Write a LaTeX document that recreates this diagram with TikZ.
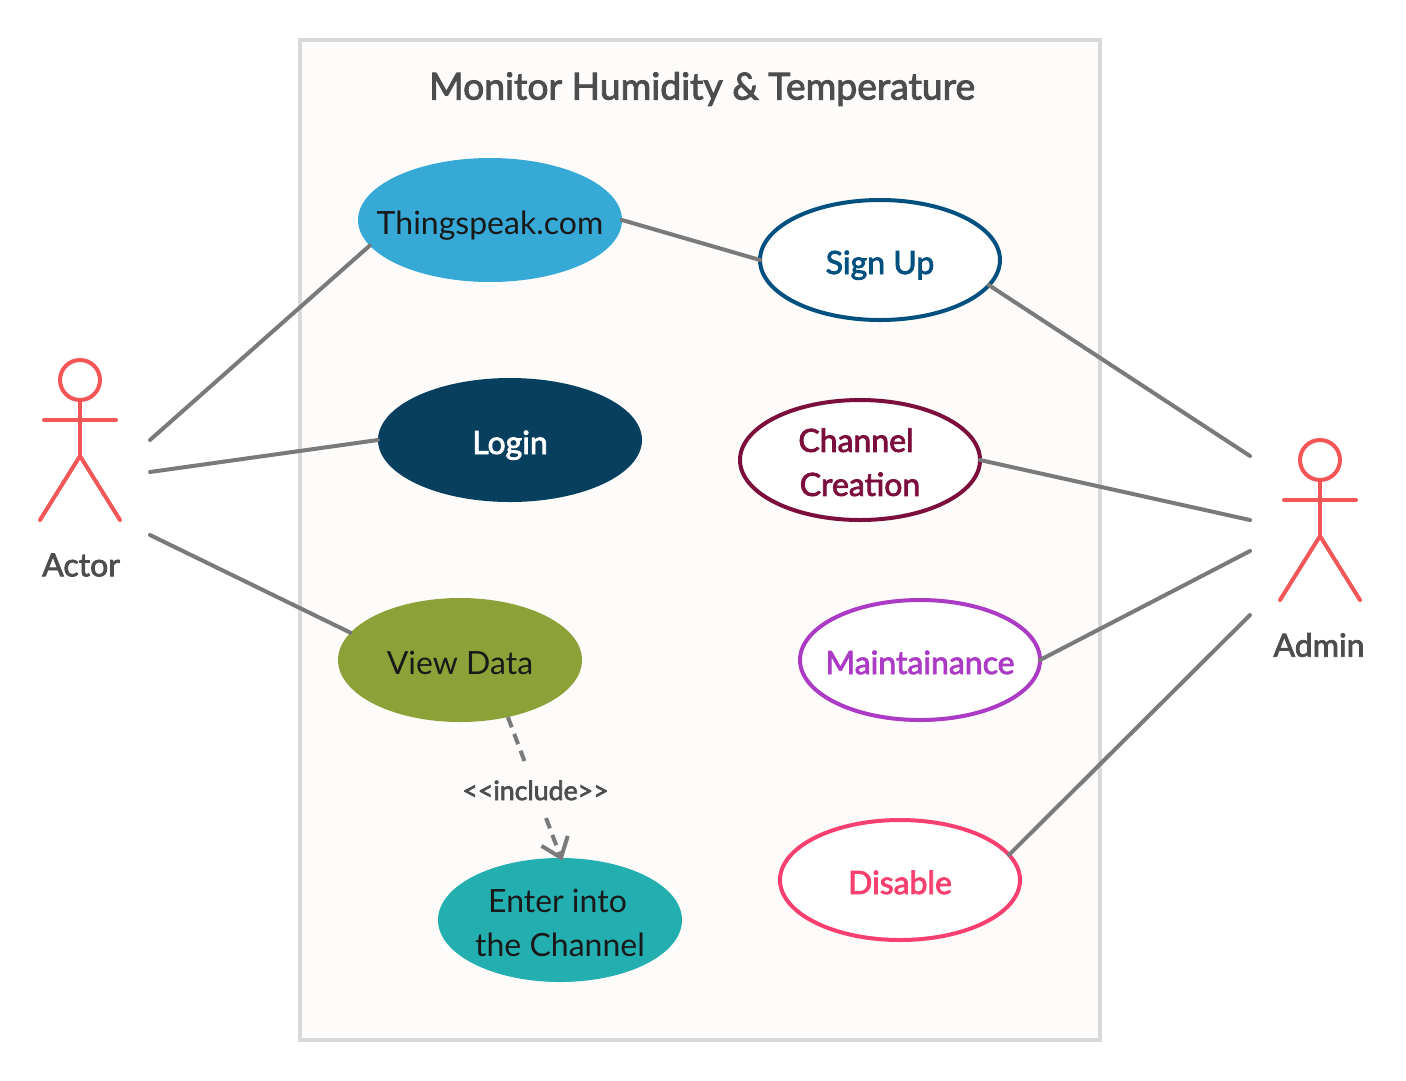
\documentclass[tikz,border=0pt]{standalone}
\usepackage{fontspec}
\setmainfont{Lato}
\newfontfamily\heavyfont{Lato}[FakeBold=2.5]
\usetikzlibrary{shapes.geometric,arrows.meta}
\definecolor{sysfill}{HTML}{FDFCFA}
\definecolor{sysline}{HTML}{D9D9D9}
\definecolor{linkgray}{HTML}{7A7A7A}
\definecolor{textgray}{HTML}{4D4D4D}
\definecolor{actorred}{HTML}{F25656}
\definecolor{thingblue}{HTML}{36A9D7}
\definecolor{loginblue}{HTML}{083F5F}
\definecolor{viewgreen}{HTML}{8CA137}
\definecolor{entergreen}{HTML}{23AFAF}
\definecolor{signblue}{HTML}{02507F}
\definecolor{channelred}{HTML}{7C0E3E}
\definecolor{maintpurple}{HTML}{AB3AC4}
\definecolor{disablepink}{HTML}{F7406F}
\tikzset{
  usecase/.style={ellipse,inner sep=-40pt,outer sep=0pt,minimum width=240pt,
    minimum height=120pt,align=center,font=\fontsize{32}{44}\selectfont},
  solidcase/.style={usecase,fill=#1,text=black!90},
  linecase/.style={usecase,draw=#1,fill=white,text=#1,line width=4pt,font=\fontsize{32}{44}\heavyfont},
  oneline/.style={text height=28pt,text depth=0pt},
  link/.style={draw=linkgray,line width=4pt,line cap=round},
  limb/.style={draw=actorred,line width=4pt,line cap=round},
  actorname/.style={text=textgray,font=\fontsize{32}{40}\heavyfont}
}
\begin{document}
\begin{tikzpicture}[x=1pt,y=-1pt]
  \useasboundingbox (0,0) rectangle (1406,1080);
  % system box
  \draw[fill=sysfill,draw=sysline,line width=4pt] (300,40) rectangle (1100,1040);
  \node[text=textgray,font=\fontsize{37.3}{46}\heavyfont] (title) at (702,89) {Monitor Humidity \& Temperature};
  % use cases
  \node[solidcase=thingblue,oneline,minimum width=264pt,minimum height=124pt] (thingspeak) at (490,220) {Thingspeak.com};
  \node[solidcase=loginblue,oneline,minimum width=264pt,minimum height=124pt,text=white,font=\fontsize{32}{44}\heavyfont] (login) at (510,440) {Login};
  \node[solidcase=viewgreen,oneline,minimum width=244pt,minimum height=124pt] (viewdata) at (460,660) {View Data};
  \node[solidcase=entergreen,minimum width=244pt,minimum height=124pt] (enter) at (560,920) {\rule{0pt}{30pt}Enter into\hspace*{5pt}\\the Channel};
  \node[linecase=signblue,oneline] (signup) at (880,260) {Sign Up};
  \node[linecase=channelred] (channel) at (860,460) {\rule{0pt}{28pt}Channel\hspace*{8pt}\\Creation};
  \node[linecase=maintpurple,oneline] (maint) at (920,660) {Maintainance};
  \node[linecase=disablepink,oneline] (disable) at (900,880) {Disable};
  % actors
  \foreach \x/\y in {80/380,1320/460} {
    \draw[limb] (\x,\y) circle (20);
    \draw[limb] (\x,\y+20) -- (\x,\y+76);
    \draw[limb] (\x-36,\y+40) -- (\x+36,\y+40);
    \draw[limb] (\x-40,\y+140) -- (\x,\y+76) -- (\x+40,\y+140);
  }
  \node[actorname] (actor) at (81,565) {Actor};
  \node[actorname] (admin) at (1319,645) {Admin};
  % free ends
  \coordinate (a1) at (150,440);
  \coordinate (a2) at (150,472);
  \coordinate (a3) at (150,535);
  \coordinate (b1) at (1250,456);
  \coordinate (b2) at (1250,520);
  \coordinate (b3) at (1250,551);
  \coordinate (b4) at (1250,615);
  % links
  \draw[link] (a1) -- (thingspeak.192.5);
  \draw[link] (a2) -- (login.west);
  \draw[link] (a3) -- (viewdata.166);
  \draw[link] (thingspeak.east) -- (signup.west);
  \draw[link] (signup.-13.5) -- (b1);
  \draw[link] (channel.east) -- (b2);
  \draw[link] (maint.east) -- (b3);
  \draw[link] (disable.13.5) -- (b4);
  \draw[draw=linkgray,line width=4pt,dash pattern=on 11pt off 7pt,shorten >=-3pt,-{Straight Barb[length=18pt,width=28pt]}]
    (viewdata.-50) -- node[fill=sysfill,text=textgray,font=\fontsize{26.7}{30}\heavyfont,inner sep=0pt,minimum height=54pt,pos=0.52] (incl) {<{}<include>{}>} (enter.89);
\end{tikzpicture}
\end{document}
